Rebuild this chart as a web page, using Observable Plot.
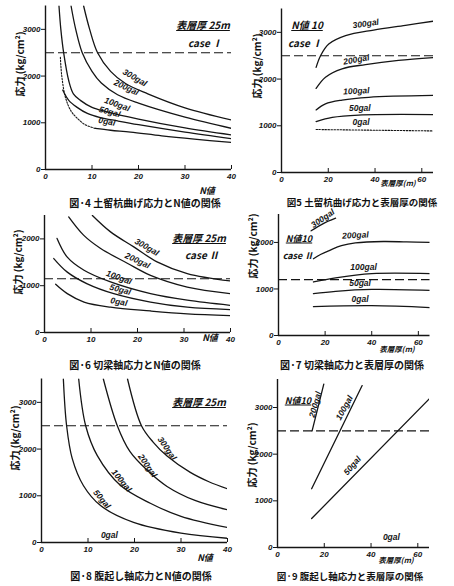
<!DOCTYPE html>
<html><head><meta charset="utf-8">
<script src="https://cdn.jsdelivr.net/npm/d3@7"></script>
<script src="https://cdn.jsdelivr.net/npm/@observablehq/plot@0.6"></script>
<style>
body{margin:0;background:#fff;}
#page{position:relative;width:454px;height:586px;overflow:hidden;background:#fff;color:#111;font-family:"Noto Sans CJK JP",sans-serif;}
.panel{position:absolute;}
.t{position:absolute;white-space:nowrap;font-weight:bold;transform:translate(-50%,-50%);line-height:1;}
.u{text-decoration:underline;}
.it{font-style:italic;}
</style></head>
<body><div id="page"></div>
<script>
// ---------- data ----------
// x: N値 (fig 4,6,8) or 表層厚 m (fig 5,7,9); y: 応力 kg/cm²
const nTicks = [0, 10, 20, 30, 40];
const tTicks = [0, 20, 40, 60];
const sTicks3 = [0, 1000, 2000, 3000];
const sTicks2 = [0, 1000, 2000];

// 図4
const fig4_300 = [[8.2,3500],[9.5,3000],[11.2,2500],[14,2100],[17.2,1840],[22,1620],[30,1320],[40,1060]];
const fig4_200 = [[5.5,3500],[6.5,3000],[7.9,2500],[10,2100],[12,1850],[15.5,1600],[20,1420],[30,1120],[40,880]];
const fig4_100 = [[2.9,3500],[3.3,3000],[3.9,2500],[5,1900],[6,1620],[7.5,1480],[10,1330],[13,1240],[20,1080],[30,890],[40,740]];
const fig4_50  = [[3.7,1700],[5,1480],[6.8,1330],[9,1200],[11.8,1110],[15.5,1040],[20,960],[30,800],[40,660]];
const fig4_0dot = [[3.2,2400],[3.5,2000],[4.3,1540],[5.5,1250],[6.8,1100],[8.5,960],[10.7,880]];
const fig4_0   = [[10.7,880],[14,840],[18.3,800],[25,720],[32,650],[40,580]];
const fig4_allow = [2500];
const fig4_lab = [[19.2,1900,"300gal",30],[17.4,1690,"200gal",25],[15.4,1330,"100gal",20],[13.8,1170,"50gal",15],[13.2,960,"0gal",10]];

// 図5
const fig5_300 = [[14.8,2250],[16.7,2500],[20.2,2750],[27.4,2930],[39.4,3050],[53,3150],[65,3240]];
const fig5_200 = [[14.8,1800],[18.8,2040],[25.9,2220],[35.9,2310],[50,2400],[65,2460]];
const fig5_100 = [[14.8,1340],[18.8,1470],[25.9,1550],[37.3,1610],[65,1650]];
const fig5_50  = [[14.8,1090],[21.7,1180],[33,1230],[65,1240]];
const fig5_0   = [[14.8,920],[40,905],[65,890]];
const fig5_allow = [2500];
const fig5_lab = [[36,3120,"300gal",-8],[32,2350,"200gal",-10],[32,1680,"100gal",-3],[33.5,1320,"50gal",0],[34,1010,"0gal",0]];

// 図6
const fig6_300 = [[10.3,2500],[14.2,2150],[19.2,1830],[24.2,1510],[30.7,1260],[40,1100]];
const fig6_200 = [[5.2,2470],[8.4,2080],[12,1800],[17.8,1480],[22.8,1220],[30.7,970],[40,830]];
const fig6_100 = [[2.7,2010],[4.9,1610],[8.5,1330],[14.2,1080],[22.8,830],[30.7,690],[40,580]];
const fig6_50  = [[2,1580],[4.9,1290],[9.2,1040],[14.9,830],[22.8,650],[30.7,540],[40,490]];
const fig6_0   = [[2.4,1030],[4.9,830],[8.5,650],[14.2,540],[22.8,460],[30.7,400],[40,360]];
const fig6_allow = [1150];
const fig6_lab = [[22,1760,"300gal",30],[20,1470,"200gal",25],[16,1110,"100gal",20],[16.3,850,"50gal",15],[16,590,"0gal",10]];

// 図7
const fig7_300 = [[14,2250],[19,2400],[24.5,2520]];
const fig7_200 = [[15,1650],[18,1740],[22,1830],[27,1930],[33,1990],[45,2020],[55,2010],[65,2000]];
const fig7_100 = [[15,1150],[24.5,1240],[40,1330],[65,1330]];
const fig7_50  = [[15,900],[24.5,950],[40,990],[65,970]];
const fig7_0   = [[15,620],[40,640],[65,600]];
const fig7_allow = [1200];
const fig7_lab = [[19,2450,"300gal",-35],[33,2090,"200gal",-3],[36.5,1410,"100gal",0],[35,1060,"50gal",0],[35,720,"0gal",0]];

// 図8
const fig8_300 = [[18.5,3500],[21.5,2500],[24,2150],[27,1850],[32,1500],[36,1300],[40,1150]];
const fig8_200 = [[13.3,3500],[16.3,2500],[19,1950],[22.8,1540],[27,1200],[33,900],[40,700]];
const fig8_100 = [[8,3500],[9.5,2500],[12,1860],[17,1220],[23.4,840],[30,560],[40,320]];
const fig8_50  = [[4.7,3500],[5.4,2500],[6.6,1800],[9,1220],[12.7,790],[19.8,430],[30,200],[40,90]];
const fig8_allow = [2500];
const fig8_lab = [[27,1950,"300gal",55],[22.8,1580,"200gal",55],[17.2,1260,"100gal",50],[13,860,"50gal",50],[14.6,90,"0gal",0]];

// 図9
const fig9_200 = [[14.8,2500],[19.8,3500]];
const fig9_100 = [[14.6,1260],[36.2,3470]];
const fig9_50  = [[14.6,620],[65,3190]];
const fig9_allow = [2500];
const fig9_lab = [[16.2,3000,"200gal",-75],[28.6,2930,"100gal",-62],[32,1690,"50gal",-50],[48.7,150,"0gal",0]];

// ---------- drawing ----------
const page = document.getElementById("page");
const INK = "#151515";

function panel(cfg) {
  const marks = [
    Plot.ruleX([0], {stroke: INK, strokeWidth: 1.4}),
    Plot.ruleY([0], {stroke: INK, strokeWidth: 1.4}),
    Plot.ruleY(cfg.allow, {y: d => d, stroke: INK, strokeWidth: 1.1, strokeDasharray: "9,4"}),
    ...cfg.curves.map(c => Plot.line(c.pts, {
      x: d => d[0], y: d => d[1], curve: "catmull-rom", stroke: INK,
      strokeWidth: c.dot ? 1.1 : 1.3, strokeDasharray: c.dot ? "1.5,1.5" : null, clip: true
    })),
    Plot.text(cfg.labels, {
      x: d => d[0], y: d => d[1], text: d => d[2], rotate: d => d[3],
      fontSize: 8.5, fontWeight: "bold", fontStyle: "italic", fill: INK, dy: -3
    }),
    Plot.axisY(cfg.yTicks, {tickSize: 4, tickPadding: 1, tickFormat: d => String(d), label: null, stroke: INK, fill: INK}),
    Plot.axisX(cfg.xTicks, {tickSize: -4, tickPadding: 8, tickFormat: d => String(d), label: null, stroke: INK, fill: INK})
  ];
  const svg = Plot.plot({
    width: cfg.w, height: cfg.h,
    marginLeft: cfg.ml, marginRight: cfg.mr, marginTop: cfg.mt, marginBottom: cfg.mb,
    x: {domain: cfg.xDomain},
    y: {domain: cfg.yDomain},
    style: {fontFamily: "'Liberation Sans Narrow','Liberation Sans',sans-serif", fontSize: "8px", fontWeight: "bold", fontStyle: "italic", background: "transparent", color: INK, overflow: "visible"},
    marks
  });
  const div = document.createElement("div");
  div.className = "panel";
  div.style.left = cfg.left + "px";
  div.style.top = cfg.top + "px";
  div.appendChild(svg);
  page.appendChild(div);
}

panel({left: 0, top: 0, w: 240, h: 190, ml: 45, mr: 9, mt: 5.5, mb: 21,
  xDomain: [0, 40], yDomain: [0, 3500], xTicks: nTicks, yTicks: sTicks3, allow: fig4_allow,
  curves: [{pts: fig4_300}, {pts: fig4_200}, {pts: fig4_100}, {pts: fig4_50}, {pts: fig4_0dot, dot: true}, {pts: fig4_0}],
  labels: fig4_lab});

panel({left: 240, top: 0, w: 214, h: 190, ml: 41, mr: 21, mt: 8.5, mb: 18,
  xDomain: [0, 65], yDomain: [0, 3500], xTicks: tTicks, yTicks: sTicks3, allow: fig5_allow,
  curves: [{pts: fig5_300}, {pts: fig5_200}, {pts: fig5_100}, {pts: fig5_50}, {pts: fig5_0, dot: true}],
  labels: fig5_lab});

panel({left: 0, top: 200, w: 240, h: 150, ml: 44, mr: 10, mt: 15, mb: 18,
  xDomain: [0, 40], yDomain: [0, 2500], xTicks: nTicks, yTicks: sTicks2, allow: fig6_allow,
  curves: [{pts: fig6_300}, {pts: fig6_200}, {pts: fig6_100}, {pts: fig6_50}, {pts: fig6_0}],
  labels: fig6_lab});

panel({left: 240, top: 200, w: 214, h: 155, ml: 38, mr: 24.5, mt: 14, mb: 20,
  xDomain: [0, 65], yDomain: [0, 2600], xTicks: tTicks, yTicks: sTicks2, allow: fig7_allow,
  curves: [{pts: fig7_300}, {pts: fig7_200}, {pts: fig7_100}, {pts: fig7_50}, {pts: fig7_0}],
  labels: fig7_lab});

panel({left: 0, top: 370, w: 240, h: 190, ml: 41, mr: 13, mt: 8.5, mb: 18,
  xDomain: [0, 40], yDomain: [0, 3500], xTicks: nTicks, yTicks: sTicks3, allow: fig8_allow,
  curves: [{pts: fig8_300}, {pts: fig8_200}, {pts: fig8_100}, {pts: fig8_50}],
  labels: fig8_lab});

panel({left: 240, top: 370, w: 214, h: 195, ml: 37, mr: 25, mt: 9, mb: 18,
  xDomain: [0, 65], yDomain: [0, 3600], xTicks: tTicks, yTicks: sTicks3, allow: fig9_allow,
  curves: [{pts: fig9_200}, {pts: fig9_100}, {pts: fig9_50}],
  labels: fig9_lab});

// ---------- text overlays ----------
function txt(s, cx, cy, size, cls, rot) {
  const d = document.createElement("div");
  d.className = "t " + (cls || "");
  d.textContent = s;
  d.style.left = cx + "px";
  d.style.top = cy + "px";
  d.style.fontSize = size + "px";
  if (rot) d.style.transform = `translate(-50%,-50%) rotate(${rot}deg)`;
  page.appendChild(d);
}
const yLabel = "応力 (kg/cm²)";
txt(yLabel, 20, 64, 10, "", -90);
txt(yLabel, 257, 66, 10, "", -90);
txt(yLabel, 18, 262, 10, "", -90);
txt(yLabel, 253, 246, 10, "", -90);
txt(yLabel, 15, 438, 10, "", -90);
txt(yLabel, 252, 455, 10, "", -90);

txt("表層厚 25m", 203, 25, 10, "u it");
txt("case Ⅰ", 205, 43, 10, "it");
txt("N値 10", 307, 25, 10, "u it");
txt("case Ⅰ", 305, 43, 10, "it");
txt("表層厚 25m", 199, 238, 10, "u it");
txt("case Ⅱ", 202, 255, 10, "it");
txt("N値10", 299, 238, 9, "u it");
txt("case Ⅱ", 298, 255, 9, "it");
txt("表層厚 25m", 199, 402, 10, "u it");
txt("N値10", 298, 400, 9, "u it");

txt("N値", 207, 190, 9, "it");
txt("N値", 210, 337, 9, "it");
txt("N値", 205, 557, 9, "it");
txt("表層厚(m)", 398, 183, 7.5, "it");
txt("表層厚(m)", 397, 349, 7.5, "it");
txt("表層厚(m)", 396, 560, 7.5, "it");

txt("図·4 土留杭曲げ応力とN値の関係", 145, 203, 10, "");
txt("図5 土留杭曲げ応力と表層厚の関係", 362, 203, 9.5, "");
txt("図·6 切梁軸応力とN値の関係", 135, 365, 10, "");
txt("図·7 切梁軸応力と表層厚の関係", 352, 365, 10, "");
txt("図·8 腹起し軸応力とN値の関係", 141, 576, 10, "");
txt("図·9 腹起し軸応力と表層厚の関係", 350, 577, 9.5, "");
</script>
</body></html>
